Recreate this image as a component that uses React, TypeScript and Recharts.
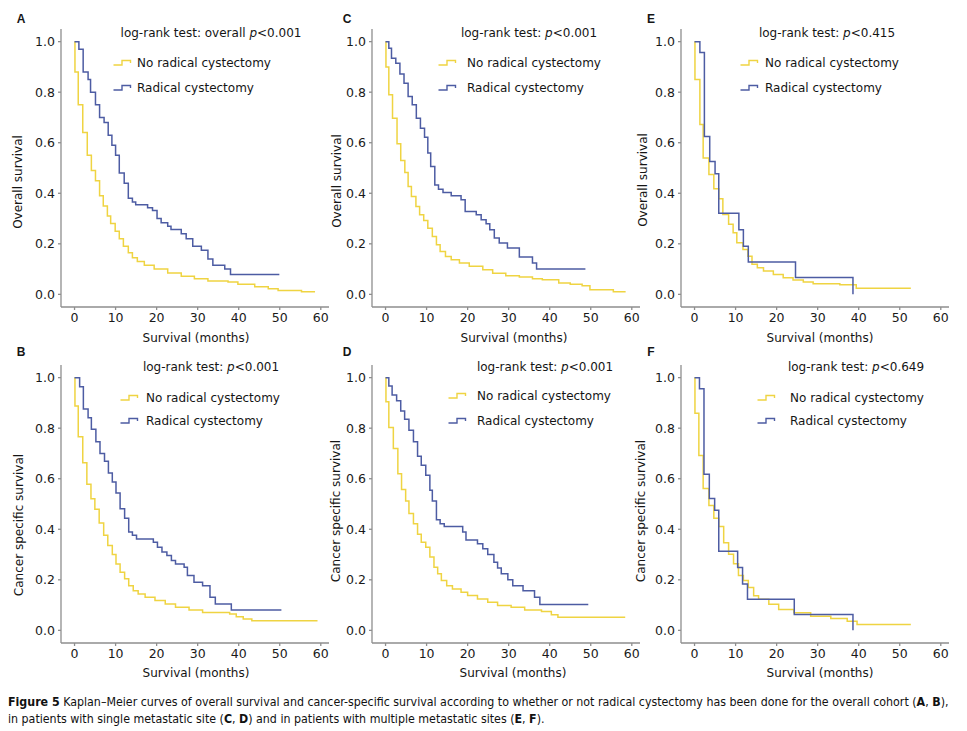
import React from 'react';
import { LineChart, Line, XAxis, YAxis } from 'recharts';

type Pt = [number, number];

// shared axis values
const xTicks = [0, 10, 20, 30, 40, 50, 60];
const yTicks = [0, 0.2, 0.4, 0.6, 0.8, 1.0];
const groupNames = ['No radical cystectomy', 'Radical cystectomy'];

// step points: [month where level starts, survival]
// A - overall survival, overall cohort
const osAllNoRC: Pt[] = [
  [0, 1], [0.1, 0.88], [0.9, 0.75], [2.0, 0.64], [3.1, 0.55], [4.1, 0.49], [5.1, 0.45],
  [6.1, 0.39], [7.0, 0.35], [8.0, 0.31], [8.8, 0.28], [9.9, 0.25], [10.9, 0.22], [11.9, 0.19],
  [13.1, 0.165], [14.1, 0.145], [15.3, 0.13], [17.0, 0.115], [19.4, 0.1], [22.7, 0.085],
  [26.0, 0.072], [29.2, 0.062], [32.5, 0.053], [37.4, 0.049], [39.8, 0.04], [43.9, 0.03],
  [47.2, 0.022], [49.6, 0.015], [55.3, 0.01], [58.6, 0.01],
];
const osAllRC: Pt[] = [
  [0, 1], [1.06, 0.97], [2.1, 0.88], [3.3, 0.85], [3.9, 0.8], [5.1, 0.75], [6.1, 0.7],
  [7.2, 0.68], [8.2, 0.63], [9.1, 0.59], [10.0, 0.55], [10.9, 0.48], [12.1, 0.44], [13.1, 0.38],
  [14.1, 0.365], [14.9, 0.355], [17.8, 0.343], [19.0, 0.332], [20.1, 0.3], [21.1, 0.283],
  [22.7, 0.27], [23.5, 0.257], [26.0, 0.24], [27.2, 0.22], [28.8, 0.19], [30.9, 0.175],
  [32.5, 0.14], [33.7, 0.115], [36.6, 0.1], [38.0, 0.079], [49.9, 0.079],
];

// B - cancer specific survival, overall cohort
const cssAllNoRC: Pt[] = [
  [0, 1], [0.1, 0.888], [0.9, 0.766], [2.0, 0.663], [3.0, 0.578], [4.0, 0.521], [4.95, 0.479],
  [6.0, 0.425], [7.1, 0.376], [8.1, 0.336], [9.2, 0.3], [10.1, 0.263], [11.1, 0.23], [12.2, 0.204],
  [13.2, 0.177], [14.3, 0.157], [15.5, 0.144], [17.2, 0.131], [19.6, 0.118], [22.1, 0.104],
  [24.6, 0.091], [27.9, 0.081], [31.2, 0.071], [37.8, 0.065], [39.4, 0.054], [41.1, 0.045],
  [43.2, 0.038], [59.2, 0.038],
];
const cssAllRC: Pt[] = [
  [0, 1], [1.24, 0.964], [2.15, 0.876], [3.3, 0.841], [4.1, 0.796], [5.2, 0.746], [6.2, 0.7],
  [7.3, 0.669], [8.25, 0.623], [9.2, 0.587], [10.1, 0.544], [11.1, 0.481], [12.2, 0.444],
  [13.2, 0.389], [14.1, 0.376], [15.1, 0.362], [19.2, 0.349], [20.2, 0.329], [21.3, 0.31],
  [22.5, 0.296], [23.6, 0.276], [24.6, 0.263], [26.7, 0.25], [27.5, 0.217], [29.1, 0.19],
  [31.2, 0.177], [33.0, 0.131], [34.3, 0.104], [38.2, 0.081], [50.4, 0.081],
];

// C - overall survival, single metastatic site
const osSingleNoRC: Pt[] = [
  [0, 1], [0.1, 0.9], [0.8, 0.79], [1.7, 0.697], [2.8, 0.596], [3.7, 0.53], [4.7, 0.482],
  [5.5, 0.427], [6.3, 0.387], [7.4, 0.348], [8.3, 0.315], [9.3, 0.292], [10.3, 0.262],
  [11.4, 0.229], [12.4, 0.196], [13.3, 0.17], [14.6, 0.15], [16.0, 0.137], [18.0, 0.124],
  [20.4, 0.111], [23.7, 0.097], [26.1, 0.084], [29.3, 0.074], [32.6, 0.069], [35.8, 0.062],
  [38.2, 0.058], [42.2, 0.045], [45.0, 0.04], [47.9, 0.034], [49.8, 0.018], [55.5, 0.01],
  [58.5, 0.01],
];
const osSingleRC: Pt[] = [
  [0, 1], [0.8, 0.974], [1.45, 0.934], [2.5, 0.914], [3.5, 0.872], [4.5, 0.835], [5.5, 0.783],
  [6.5, 0.75], [7.5, 0.697], [8.5, 0.657], [9.5, 0.622], [10.3, 0.559], [11.0, 0.506],
  [12.0, 0.433], [12.9, 0.416], [14.0, 0.403], [16.0, 0.39], [18.4, 0.374], [19.4, 0.328],
  [22.1, 0.315], [23.3, 0.295], [24.5, 0.279], [25.4, 0.256], [26.5, 0.223], [27.7, 0.203],
  [29.7, 0.183], [32.6, 0.148], [35.8, 0.124], [36.8, 0.1], [48.7, 0.1],
];

// D - cancer specific survival, single metastatic site
const cssSingleNoRC: Pt[] = [
  [0, 1], [0.1, 0.905], [0.8, 0.803], [1.9, 0.72], [3.0, 0.62], [3.9, 0.557], [4.9, 0.512],
  [5.7, 0.462], [6.8, 0.422], [7.8, 0.38], [8.7, 0.349], [9.8, 0.329], [10.8, 0.29], [11.8, 0.25],
  [12.7, 0.224], [13.6, 0.197], [14.9, 0.177], [16.3, 0.164], [18.4, 0.151], [20.0, 0.138],
  [22.4, 0.124], [24.9, 0.111], [27.3, 0.098], [30.6, 0.091], [33.9, 0.081], [38.0, 0.075],
  [40.4, 0.062], [42.0, 0.052], [58.4, 0.052],
];
const cssSingleRC: Pt[] = [
  [0, 1], [0.8, 0.967], [1.6, 0.931], [2.7, 0.909], [3.7, 0.868], [4.65, 0.835], [5.7, 0.792],
  [6.8, 0.746], [7.8, 0.689], [8.7, 0.653], [9.8, 0.614], [10.8, 0.554], [11.4, 0.512],
  [12.4, 0.438], [13.3, 0.422], [14.3, 0.411], [18.8, 0.389], [19.6, 0.358], [22.4, 0.343],
  [23.7, 0.323], [24.9, 0.3], [26.4, 0.27], [27.3, 0.247], [28.2, 0.224], [29.8, 0.2],
  [31.0, 0.177], [33.5, 0.157], [36.3, 0.131], [37.6, 0.102], [49.4, 0.102],
];

// E - overall survival, multiple metastatic sites
const osMultiNoRC: Pt[] = [
  [0, 1], [0.1, 0.85], [1.3, 0.672], [2.1, 0.54], [3.5, 0.474], [4.7, 0.418], [5.9, 0.378],
  [6.9, 0.316], [8.3, 0.277], [9.4, 0.244], [10.3, 0.204], [11.8, 0.178], [13.0, 0.151],
  [14.0, 0.119], [15.3, 0.105], [16.8, 0.092], [19.2, 0.079], [21.6, 0.066], [24.0, 0.057],
  [26.5, 0.049], [28.9, 0.042], [35.4, 0.038], [39.4, 0.024], [52.7, 0.024],
];
const osMultiRC: Pt[] = [
  [0, 1], [1.3, 0.957], [2.4, 0.625], [3.7, 0.526], [5.0, 0.477], [5.9, 0.321], [10.8, 0.256],
  [11.9, 0.19], [13.1, 0.128], [24.6, 0.067], [38.6, 0.067], [38.6, 0],
];

// F - cancer specific survival, multiple metastatic sites
const cssMultiNoRC: Pt[] = [
  [0, 1], [0.1, 0.859], [1.05, 0.692], [2.1, 0.561], [3.5, 0.494], [4.7, 0.444], [5.9, 0.411],
  [7.1, 0.347], [8.3, 0.301], [9.5, 0.264], [10.7, 0.217], [11.9, 0.197], [13.1, 0.17],
  [14.4, 0.137], [15.6, 0.123], [18.1, 0.103], [20.5, 0.083], [24.2, 0.07], [28.3, 0.056],
  [33.2, 0.047], [37.2, 0.036], [39.6, 0.023], [52.7, 0.023],
];
const cssMultiRC: Pt[] = [
  [0, 1], [1.2, 0.956], [2.3, 0.618], [3.6, 0.522], [4.9, 0.475], [5.9, 0.313], [10.5, 0.249],
  [11.7, 0.183], [12.9, 0.123], [24.3, 0.063], [38.6, 0.063], [38.6, 0],
];

const YELLOW = '#EFD442';
const BLUE = '#4D5CA3';
const AXIS = '#8e8e8e';
const FONT = '"DejaVu Sans", Arial, sans-serif';

const toPts = (arr: Pt[]) => arr.map(([t, s]) => ({ t, s }));

type PanelDef = {
  letter: string;
  yTitle: string;
  test: string;
  p: string;
  noRC: Pt[];
  rc: Pt[];
  left: number;
  top: number;
  letterPos: [number, number];
  testPos: [number, number];
  iconX: number;
  textX: number;
  legendY: [number, number];
  yTitlePos: [number, number];
  xTitlePos: [number, number];
};

const panels: PanelDef[] = [
  {
    letter: 'A', yTitle: 'Overall survival', test: 'overall ', p: '<0.001', noRC: osAllNoRC, rc: osAllRC,
    left: 0, top: 0, letterPos: [21, 19], testPos: [211, 33], iconX: 113, textX: 137,
    legendY: [63, 88], yTitlePos: [18, 182], xTitlePos: [196, 338],
  },
  {
    letter: 'B', yTitle: 'Cancer specific survival', test: '', p: '<0.001', noRC: cssAllNoRC, rc: cssAllRC,
    left: 0, top: 336, letterPos: [21, 352], testPos: [211, 367], iconX: 120, textX: 146,
    legendY: [398, 421], yTitlePos: [19, 525], xTitlePos: [196, 673],
  },
  {
    letter: 'C', yTitle: 'Overall survival', test: '', p: '<0.001', noRC: osSingleNoRC, rc: osSingleRC,
    left: 311, top: 0, letterPos: [347, 19], testPos: [529, 33], iconX: 438, textX: 467,
    legendY: [63, 88], yTitlePos: [337, 181], xTitlePos: [514, 338],
  },
  {
    letter: 'D', yTitle: 'Cancer specific survival', test: '', p: '<0.001', noRC: cssSingleNoRC, rc: cssSingleRC,
    left: 311, top: 336, letterPos: [347, 352], testPos: [545, 367], iconX: 448, textX: 477,
    legendY: [396, 421], yTitlePos: [336, 511], xTitlePos: [513, 673],
  },
  {
    letter: 'E', yTitle: 'Overall survival', test: '', p: '<0.415', noRC: osMultiNoRC, rc: osMultiRC,
    left: 620, top: 0, letterPos: [651, 19], testPos: [827, 33], iconX: 740, textX: 765,
    legendY: [63, 88], yTitlePos: [643, 180], xTitlePos: [820, 338],
  },
  {
    letter: 'F', yTitle: 'Cancer specific survival', test: '', p: '<0.649', noRC: cssMultiNoRC, rc: cssMultiRC,
    left: 620, top: 336, letterPos: [651, 352], testPos: [856, 367], iconX: 757, textX: 790,
    legendY: [398, 421], yTitlePos: [641, 511], xTitlePos: [820, 673],
  },
];

const baseText: React.CSSProperties = {
  position: 'absolute',
  whiteSpace: 'nowrap',
  lineHeight: 1,
  fontFamily: FONT,
  fontSize: 12,
  color: '#151515',
};

function StepIcon({ color }: { color: string }) {
  return (
    <svg width={20} height={8} style={{ display: 'block' }}>
      <path d="M0.5,6 H9 V1.5 H17.5 V4" fill="none" stroke={color} strokeWidth={1.4} />
    </svg>
  );
}

function KmChart({ panel }: { panel: PanelDef }) {
  const axisLine = { stroke: AXIS, strokeWidth: 1.3 };
  const tick = { fill: '#1a1a1a', fontSize: 12.5, fontFamily: FONT };
  return (
    <div style={{ position: 'absolute', left: panel.left, top: panel.top }}>
      <LineChart width={335} height={340} margin={{ top: 29, right: 6, bottom: 3, left: 21 }}>
        <XAxis
          type="number"
          dataKey="t"
          domain={[-3.3, 62]}
          ticks={xTicks}
          interval={0}
          allowDataOverflow
          height={30}
          axisLine={axisLine}
          tickLine={axisLine}
          tickSize={3}
          tickMargin={3}
          tick={tick}
        />
        <YAxis
          type="number"
          dataKey="s"
          domain={[-0.05, 1.05]}
          ticks={yTicks}
          interval={0}
          allowDataOverflow
          width={40}
          axisLine={axisLine}
          tickLine={axisLine}
          tickSize={3}
          tickMargin={3}
          tick={tick}
          tickFormatter={(v: number) => v.toFixed(1)}
        />
        <Line
          data={toPts(panel.noRC)}
          dataKey="s"
          name={groupNames[0]}
          type="stepAfter"
          stroke={YELLOW}
          strokeWidth={1.5}
          dot={false}
          activeDot={false}
          isAnimationActive={false}
        />
        <Line
          data={toPts(panel.rc)}
          dataKey="s"
          name={groupNames[1]}
          type="stepAfter"
          stroke={BLUE}
          strokeWidth={1.5}
          dot={false}
          activeDot={false}
          isAnimationActive={false}
        />
      </LineChart>
    </div>
  );
}

function Overlay({ panel }: { panel: PanelDef }) {
  const colors = [YELLOW, BLUE];
  return (
    <>
      <div
        style={{
          ...baseText,
          left: panel.letterPos[0],
          top: panel.letterPos[1],
          transform: 'translate(-50%, -50%)',
          fontFamily: '"Liberation Sans", Arial, sans-serif',
          fontWeight: 700,
          fontSize: 12,
        }}
      >
        {panel.letter}
      </div>
      <div
        style={{
          ...baseText,
          left: panel.testPos[0],
          top: panel.testPos[1],
          transform: 'translate(-50%, -50%)',
        }}
      >
        log-rank test: {panel.test}
        <i>p</i>
        {panel.p}
      </div>
      {groupNames.map((name, i) => (
        <React.Fragment key={name}>
          <div
            style={{
              position: 'absolute',
              left: panel.iconX,
              top: panel.legendY[i],
              transform: 'translateY(-50%)',
            }}
          >
            <StepIcon color={colors[i]} />
          </div>
          <div
            style={{
              ...baseText,
              left: panel.textX,
              top: panel.legendY[i],
              transform: 'translateY(-50%)',
            }}
          >
            {name}
          </div>
        </React.Fragment>
      ))}
      <div
        style={{
          ...baseText,
          left: panel.yTitlePos[0],
          top: panel.yTitlePos[1],
          transform: 'translate(-50%, -50%) rotate(-90deg)',
        }}
      >
        {panel.yTitle}
      </div>
      <div
        style={{
          ...baseText,
          left: panel.xTitlePos[0],
          top: panel.xTitlePos[1],
          transform: 'translate(-50%, -50%)',
        }}
      >
        Survival (months)
      </div>
    </>
  );
}

export default function App() {
  const capFont = '"Liberation Sans Narrow", "DejaVu Sans Condensed", Arial, sans-serif';
  return (
    <div
      style={{
        position: 'absolute',
        left: 0,
        top: 0,
        width: 967,
        height: 731,
        background: '#fff',
        overflow: 'hidden',
      }}
    >
      {panels.map((p) => (
        <KmChart key={p.letter} panel={p} />
      ))}
      {panels.map((p) => (
        <Overlay key={p.letter} panel={p} />
      ))}
      <div
        style={{
          position: 'absolute',
          left: 8,
          top: 694,
          fontFamily: capFont,
          fontSize: 12.3,
          lineHeight: '17px',
          color: '#111',
          whiteSpace: 'nowrap',
        }}
      >
        <b>Figure 5</b> Kaplan–Meier curves of overall survival and cancer-specific survival according to whether or
        not radical cystectomy has been done for the overall cohort (<b>A</b>, <b>B</b>),
        <br />
        in patients with single metastatic site (<b>C</b>, <b>D</b>) and in patients with multiple metastatic sites (
        <b>E</b>, <b>F</b>).
      </div>
    </div>
  );
}
